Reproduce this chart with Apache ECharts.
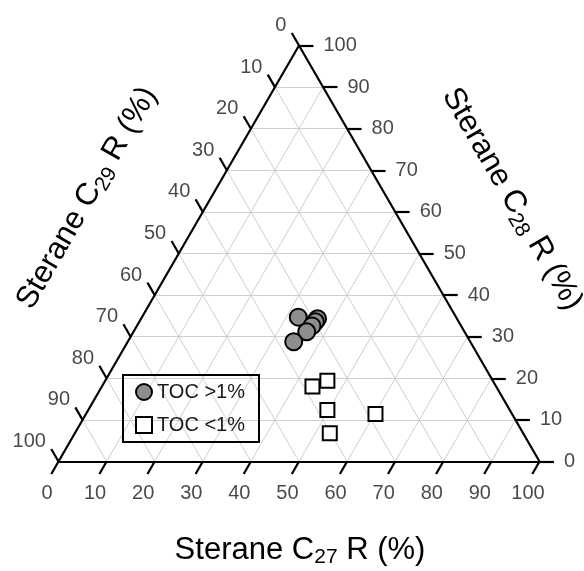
<!DOCTYPE html>
<html>
<head>
<meta charset="utf-8">
<script src="https://cdn.jsdelivr.net/npm/echarts@6/dist/echarts.min.js"></script>
<style>
html,body{margin:0;padding:0;background:#fff;}
#chart{width:584px;height:571px;}
</style>
</head>
<body>
<div id="chart"></div>
<script>
// ---- data (ternary percentages) ----
const tickValues = [0, 10, 20, 30, 40, 50, 60, 70, 80, 90, 100];
const tickLabels = ['0', '10', '20', '30', '40', '50', '60', '70', '80', '90', '100'];
const gridValues = [10, 20, 30, 40, 50, 60, 70, 80, 90];

const highTocC27 = [32.5, 36.7, 36.6, 36.4, 36.0, 34.5];
const highTocC28 = [34.7, 34.3, 33.6, 32.6, 31.2, 28.8];
const highTocC29 = [32.8, 29.0, 29.8, 31.0, 32.8, 36.7];

const lowTocC27 = [43.8, 46.2, 49.7, 53.0, 60.2];
const lowTocC28 = [18.0, 19.4, 12.4, 6.8, 11.4];
const lowTocC29 = [38.2, 34.4, 37.9, 40.2, 28.4];

const seriesNames = ['TOC >1%', 'TOC <1%'];
const axisTitleC27 = ['Sterane C', '27', ' R (%)'];
const axisTitleC28 = ['Sterane C', '28', ' R (%)'];
const axisTitleC29 = ['Sterane C', '29', ' R (%)'];

// ---- ternary -> cartesian (C27 along base, C28 to apex) ----
const S3 = Math.sqrt(3) / 2;
function tern(c27, c28) { return [c27 + c28 / 2, c28 * S3]; }

const TICK = 3.0;     // tick length in percent units
const LBL = 4.8;      // label anchor distance

// grid lines
const gridLines = [];
gridValues.forEach(v => {
  gridLines.push({coords: [tern(0, v), tern(100 - v, v)]});          // const C28
  gridLines.push({coords: [tern(v, 0), tern(v, 100 - v)]});          // const C27
  gridLines.push({coords: [tern(100 - v, 0), tern(0, 100 - v)]});    // const C29
});
// edges
const edgeLines = [
  {coords: [tern(0, 0), tern(100, 0)]},
  {coords: [tern(100, 0), tern(0, 100)]},
  {coords: [tern(0, 100), tern(0, 0)]}
];
// ticks
const tickLines = [];
tickValues.forEach(v => {
  tickLines.push({coords: [tern(v, 0), tern(v, -TICK)]});                     // C27 bottom
  tickLines.push({coords: [tern(100 - v, v), tern(100 - v + TICK, v)]});      // C28 right
  tickLines.push({coords: [tern(0, 100 - v), tern(-TICK, 100 - v + TICK)]});  // C29 left
});
const bottomLabels = tickValues.map((v, i) => ({value: tern(v, -LBL), name: tickLabels[i]}));
const rightLabels = tickValues.map((v, i) => ({value: tern(100 - v + TICK, v), name: tickLabels[i]}));
const leftLabels = tickValues.map((v, i) => ({value: tern(-LBL, 100 - v + LBL), name: tickLabels[i]}));

const highPts = highTocC27.map((c, i) => tern(c, highTocC28[i]));
const lowPts = lowTocC27.map((c, i) => tern(c, lowTocC28[i]));

const FONT = '"Liberation Sans", Arial, Helvetica, sans-serif';
function titleText(parts) { return '{m|' + parts[0] + '}{s|' + parts[1] + '}{m|' + parts[2] + '}'; }
const titleRich = {
  m: {fontSize: 31, fontFamily: FONT, fill: '#000', lineHeight: 36},
  s: {fontSize: 21, fontFamily: FONT, fill: '#000', lineHeight: 16, verticalAlign: 'bottom'}
};

const chart = echarts.init(document.getElementById('chart'), null, {renderer: 'canvas'});
const labelSeries = (data, labelOpt) => ({
  type: 'scatter', data: data, symbolSize: 0, clip: false, silent: true, z: 5,
  label: Object.assign({show: true, formatter: p => p.name, color: '#1a1a1a', fontSize: 20, fontFamily: FONT}, labelOpt)
});

chart.setOption({
  animation: false,
  backgroundColor: '#fff',
  grid: {left: 58.5, right: 44.5, top: 45.5, bottom: 109.5},
  xAxis: {type: 'value', min: 0, max: 100, show: false},
  yAxis: {type: 'value', min: 0, max: 100 * S3, show: false},
  legend: {
    orient: 'vertical', left: 123, top: 375,
    padding: [7, 14, 7, 12], itemGap: 13, itemWidth: 16, itemHeight: 16,
    borderColor: '#000', borderWidth: 2, borderRadius: 0,
    textStyle: {fontSize: 20, fontFamily: FONT, color: '#1a1a1a'},
    data: [{name: seriesNames[0], icon: 'circle'}, {name: seriesNames[1], icon: 'rect'}]
  },
  series: [
    {type: 'lines', coordinateSystem: 'cartesian2d', data: gridLines, clip: false, silent: true, z: 1,
     lineStyle: {color: '#cfcfcf', width: 1, opacity: 1}},
    {type: 'lines', coordinateSystem: 'cartesian2d', data: edgeLines, clip: false, silent: true, z: 3,
     lineStyle: {color: '#000', width: 2.2, opacity: 1}},
    {type: 'lines', coordinateSystem: 'cartesian2d', data: tickLines, clip: false, silent: true, z: 3,
     lineStyle: {color: '#000', width: 2.2, opacity: 1}},
    labelSeries(bottomLabels, {position: 'bottom', distance: 2}),
    labelSeries(rightLabels, {position: 'right', distance: 10}),
    labelSeries(leftLabels, {position: 'left', distance: 1}),
    {name: seriesNames[0], type: 'scatter', data: highPts, symbol: 'circle', symbolSize: 17, clip: false, z: 10,
     itemStyle: {color: '#8e8e8e', borderColor: '#000', borderWidth: 2, opacity: 1}},
    {name: seriesNames[1], type: 'scatter', data: lowPts, symbol: 'rect', symbolSize: 14, clip: false, z: 10,
     itemStyle: {color: '#fff', borderColor: '#000', borderWidth: 2, opacity: 1}}
  ],
  graphic: [
    {type: 'text', x: 300, y: 550, z: 20,
     style: {text: titleText(axisTitleC27), rich: titleRich, align: 'center', verticalAlign: 'middle', fill: '#000'}},
    {type: 'text', x: 87, y: 198, rotation: Math.PI / 3, z: 20,
     style: {text: titleText(axisTitleC29), rich: titleRich, align: 'center', verticalAlign: 'middle', fill: '#000'}},
    {type: 'text', x: 512, y: 199, rotation: -Math.PI / 3, z: 20,
     style: {text: titleText(axisTitleC28), rich: titleRich, align: 'center', verticalAlign: 'middle', fill: '#000'}}
  ]
});
</script>
</body>
</html>
